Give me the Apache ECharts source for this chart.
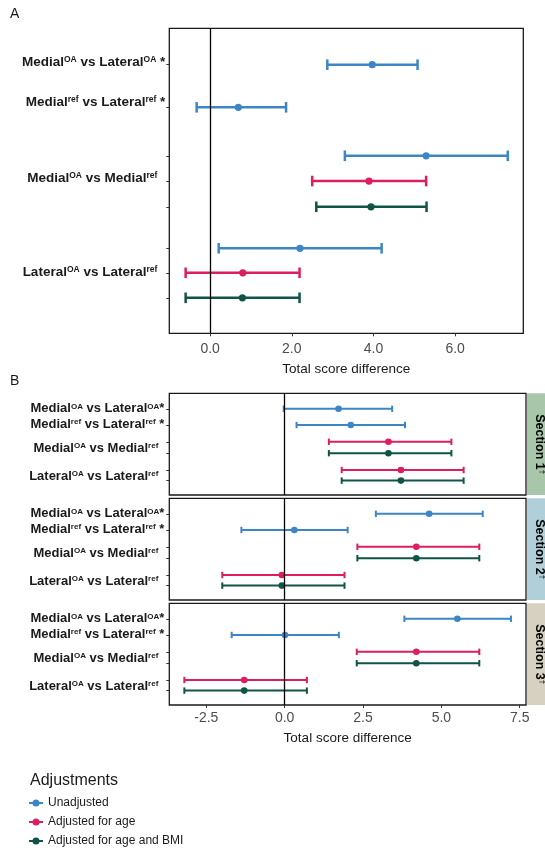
<!DOCTYPE html>
<html>
<head>
<meta charset="utf-8">
<script src="https://cdn.jsdelivr.net/npm/echarts@6/dist/echarts.min.js"></script>
<style>
  html, body { margin: 0; padding: 0; background: #fff; }
  #chart { width: 545px; height: 852px; }
</style>
</head>
<body>
<div id="chart"></div>
<script>
const FONT = '"Liberation Sans", Arial, Helvetica, sans-serif';

// ---- data ----
const adjustments = ['Unadjusted', 'Adjusted for age', 'Adjusted for age and BMI'];
const comparisonLabelsA = ['Medial^OA vs Lateral^OA *', 'Medial^ref vs Lateral^ref *', 'Medial^OA vs Medial^ref', 'Lateral^OA vs Lateral^ref'];
const comparisonLabelsB = ['Medial^OA vs Lateral^OA*', 'Medial^ref vs Lateral^ref *', 'Medial^OA vs Medial^ref', 'Lateral^OA vs Lateral^ref'];
const sections = ['Section 1', 'Section 2', 'Section 3'];
const xTicksA = [0, 2, 4, 6];
const xTicksB = [-2.5, 0, 2.5, 5, 7.5];

// Panel A: whole score, one row per estimate
const aComparison = [0, 1, 2, 2, 2, 3, 3, 3];
const aAdjustment = [0, 0, 0, 1, 2, 0, 1, 2];
const aEstimate = [3.97, 0.69, 5.29, 3.89, 3.94, 2.20, 0.80, 0.79];
const aLower    = [2.87, -0.33, 3.30, 2.50, 2.60, 0.21, -0.60, -0.60];
const aUpper    = [5.08, 1.86, 7.29, 5.29, 5.30, 4.20, 2.19, 2.19];

// Panel B: per section, same row order in each section
const bComparison = [0, 1, 2, 2, 3, 3];
const bAdjustment = [0, 0, 1, 2, 1, 2];
const bEstimate = [
  [1.72, 2.11, 3.31, 3.31, 3.71, 3.71],
  [4.61, 0.31, 4.20, 4.20, -0.09, -0.09],
  [5.51, 0.01, 4.20, 4.20, -1.29, -1.29]
];
const bLower = [
  [-0.03, 0.38, 1.41, 1.41, 1.82, 1.82],
  [2.91, -1.38, 2.32, 2.32, -1.99, -1.99],
  [3.82, -1.69, 2.30, 2.30, -3.20, -3.20]
];
const bUpper = [
  [3.43, 3.84, 5.32, 5.32, 5.71, 5.71],
  [6.32, 2.01, 6.21, 6.21, 1.91, 1.91],
  [7.22, 1.73, 6.21, 6.21, 0.71, 0.71]
];

// ---- layout ----
const colors = ['#3d86c6', '#dc1d5f', '#0f5446'];
const stripColors = ['#a8c7aa', '#b1cfd9', '#d6d1c1'];
const rowSlotA = [1.456, 3.16, 5.1, 6.11, 7.14, 8.8, 9.78, 10.78];
const labelSlotA = [1.35, 2.95, 6.0, 9.76];
const spanA = 12.2;
const rowSlotB = [1.55, 3.17, 4.85, 5.99, 7.67, 8.73];
const labelSlotB = [1.55, 3.09, 5.53, 8.33];
const spanB = 10.17;

const gridA = { left: 169.3, top: 28.3, width: 354, height: 305 };
const gridBTops = [393.3, 498.3, 603.3];
const gridB = { left: 169.3, width: 356.7, height: 101.7 };

function richLabel(text) {
  const parts = text.split(/\^(\w+)/);
  let out = '';
  parts.forEach((p, i) => { if (p) out += (i % 2 ? '{s|' : '{m|') + p + '}'; });
  if (!/\*$/.test(text)) out += '{pad|}';
  return out;
}

function labelRich(mainSize, supSize, pad) {
  return {
    m: { fontFamily: FONT, fontSize: mainSize, fontWeight: 'bold', color: '#1a1a1a' },
    s: { fontFamily: FONT, fontSize: supSize, fontWeight: 'bold', color: '#1a1a1a', verticalAlign: 'top' },
    pad: { width: pad }
  };
}

function errorBar(capHalf, lineW, radius) {
  return function (params, api) {
    const y = api.value(1);
    const mid = api.coord([api.value(0), y]);
    const lo = api.coord([api.value(2), y]);
    const hi = api.coord([api.value(3), y]);
    const color = api.visual('color');
    const ls = { stroke: color, lineWidth: lineW };
    return {
      type: 'group',
      children: [
        { type: 'line', shape: { x1: lo[0], y1: lo[1], x2: hi[0], y2: hi[1] }, style: ls },
        { type: 'line', shape: { x1: lo[0], y1: lo[1] - capHalf, x2: lo[0], y2: lo[1] + capHalf }, style: ls },
        { type: 'line', shape: { x1: hi[0], y1: hi[1] - capHalf, x2: hi[0], y2: hi[1] + capHalf }, style: ls },
        { type: 'circle', shape: { cx: mid[0], cy: mid[1], r: radius }, style: { fill: color } }
      ]
    };
  };
}

const zeroLine = {
  silent: true,
  symbol: ['none', 'none'],
  label: { show: false },
  lineStyle: { color: '#000', width: 1.3, type: 'solid' },
  data: [{ xAxis: 0 }]
};

const grids = [];
const xAxes = [];
const yAxes = [];
const series = [];

// Panel A
grids.push(Object.assign({ show: true, borderColor: '#1a1a1a', borderWidth: 1.3, backgroundColor: 'transparent' }, gridA));
xAxes.push({
  type: 'value', gridIndex: 0, min: -1.0, max: 7.67, position: 'bottom',
  axisLine: { show: false, onZero: false }, splitLine: { show: false },
  axisTick: { show: true, customValues: xTicksA, length: 3, lineStyle: { color: '#333' } },
  axisLabel: { customValues: xTicksA, margin: 9, color: '#4d4d4d', fontFamily: FONT, fontSize: 14, formatter: v => v.toFixed(1) },
  name: 'Total score difference', nameLocation: 'middle', nameGap: 29,
  nameTextStyle: { fontFamily: FONT, fontSize: 13.5, color: '#1a1a1a' }
});
yAxes.push({
  type: 'value', gridIndex: 0, min: 0, max: spanA, inverse: true,
  axisLine: { show: false, onZero: false }, splitLine: { show: false },
  axisTick: { show: true, customValues: rowSlotA, length: 3, lineStyle: { color: '#333' } },
  axisLabel: {
    customValues: labelSlotA, margin: 4,
    formatter: v => richLabel(comparisonLabelsA[labelSlotA.findIndex(p => Math.abs(p - v) < 1e-6)]),
    rich: labelRich(13.5, 8.5, 8)
  }
});
adjustments.forEach((name, k) => {
  const data = [];
  aEstimate.forEach((est, i) => {
    if (aAdjustment[i] === k) data.push([est, rowSlotA[i], aLower[i], aUpper[i], aComparison[i]]);
  });
  series.push({
    type: 'custom', name, xAxisIndex: 0, yAxisIndex: 0,
    itemStyle: { color: colors[k] },
    encode: { x: [0, 2, 3], y: 1 },
    renderItem: errorBar(5.3, 2.5, 3.6),
    data,
    markLine: k === 0 ? zeroLine : undefined
  });
});

// Panel B: one grid per section
sections.forEach((sec, s) => {
  const gi = s + 1;
  const last = s === sections.length - 1;
  grids.push(Object.assign({ show: true, borderColor: '#1a1a1a', borderWidth: 1.3, backgroundColor: 'transparent', top: gridBTops[s] }, gridB));
  xAxes.push({
    type: 'value', gridIndex: gi, min: -3.68, max: 7.70, position: 'bottom',
    axisLine: { show: false, onZero: false }, splitLine: { show: false },
    axisTick: { show: last, customValues: last ? xTicksB : [], length: last ? 3 : 0, lineStyle: { color: '#333' } },
    axisLabel: { show: last, customValues: xTicksB, margin: 6, color: '#4d4d4d', fontFamily: FONT, fontSize: 14, formatter: v => v.toFixed(1) },
    name: last ? 'Total score difference' : '', nameLocation: 'middle', nameGap: 26,
    nameTextStyle: { fontFamily: FONT, fontSize: 13.5, color: '#1a1a1a' }
  });
  yAxes.push({
    type: 'value', gridIndex: gi, min: 0, max: spanB, inverse: true,
    axisLine: { show: false, onZero: false }, splitLine: { show: false },
    axisTick: { show: true, customValues: rowSlotB, length: 3, lineStyle: { color: '#333' } },
    axisLabel: {
      customValues: labelSlotB, margin: 5,
      formatter: v => richLabel(comparisonLabelsB[labelSlotB.findIndex(p => Math.abs(p - v) < 1e-6)]),
      rich: labelRich(13, 8, 6)
    }
  });
  adjustments.forEach((name, k) => {
    const data = [];
    bEstimate[s].forEach((est, j) => {
      if (bAdjustment[j] === k) data.push([est, rowSlotB[j], bLower[s][j], bUpper[s][j], bComparison[j]]);
    });
    series.push({
      type: 'custom', name, xAxisIndex: gi, yAxisIndex: gi,
      itemStyle: { color: colors[k] },
      encode: { x: [0, 2, 3], y: 1 },
      renderItem: errorBar(3.2, 2, 3.3),
      data,
      markLine: k === 0 ? zeroLine : undefined
    });
  });
});

// facet strips on the right of panel B
const graphic = [];
sections.forEach((sec, s) => {
  const top = gridBTops[s];
  graphic.push({
    type: 'rect', silent: true, z: 0,
    shape: { x: 527, y: top, width: 22, height: gridB.height },
    style: { fill: stripColors[s] }
  });
  graphic.push({
    type: 'text', silent: true, z: 1,
    x: 539.5, y: top + gridB.height / 2, rotation: -Math.PI / 2,
    style: {
      text: '{m|' + sec + '}{s|\u2020}',
      align: 'center', verticalAlign: 'middle',
      rich: {
        m: { fontFamily: FONT, fontSize: 12.5, fontWeight: 'bold', color: '#1a1a1a' },
        s: { fontFamily: FONT, fontSize: 8, color: '#1a1a1a', verticalAlign: 'top' }
      }
    }
  });
});

const legendIcon = 'path://M0,2.6H14V4.4H0Z M10.5,3.5A3.5,3.5,0,1,1,3.5,3.5A3.5,3.5,0,1,1,10.5,3.5Z';

const option = {
  animation: false,
  backgroundColor: '#fff',
  textStyle: { fontFamily: FONT },
  title: [
    { text: 'A', left: 10, top: 7, padding: 0, textStyle: { fontFamily: FONT, fontSize: 14, fontWeight: 'normal', color: '#1a1a1a' } },
    { text: 'B', left: 10, top: 374, padding: 0, textStyle: { fontFamily: FONT, fontSize: 14, fontWeight: 'normal', color: '#1a1a1a' } },
    { text: 'Adjustments', left: 30, top: 773, padding: 0, textStyle: { fontFamily: FONT, fontSize: 16, fontWeight: 'normal', color: '#1a1a1a' } }
  ],
  legend: {
    orient: 'vertical', left: 29, top: 797, padding: 0,
    itemWidth: 14, itemHeight: 7, itemGap: 7, selectedMode: false,
    data: adjustments.map(n => ({ name: n, icon: legendIcon })),
    textStyle: { fontFamily: FONT, fontSize: 12, color: '#1a1a1a' }
  },
  grid: grids,
  xAxis: xAxes,
  yAxis: yAxes,
  series,
  graphic
};

const chart = echarts.init(document.getElementById('chart'), null, { renderer: 'canvas' });
chart.setOption(option);
</script>
</body>
</html>
